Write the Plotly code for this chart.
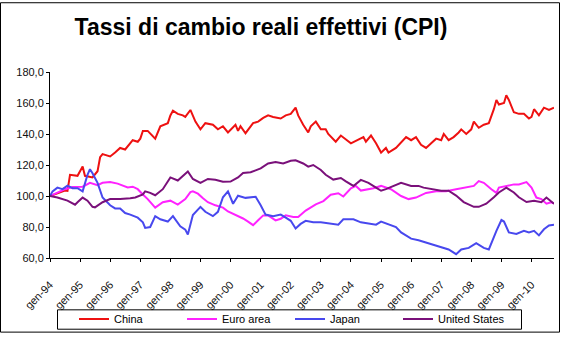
import pandas as pd
import plotly.graph_objects as go

# Real effective exchange rates (CPI based), index Jan 1994 = 100.
# Each series: month offset from Jan 1994 and index value.
start = pd.Timestamp("1994-01-01")

china_months = [0, 3, 6, 7, 8, 11, 13, 14, 17, 19, 20, 21, 24, 26, 28, 30, 33, 35, 36, 37, 39, 42, 44,
                47, 48, 49, 51, 53, 54, 56, 58, 60, 62, 65, 67, 69, 71, 74, 75, 76, 78, 81, 83, 85, 87,
                89, 92, 94, 96, 98, 99, 101, 103, 104, 106, 108, 110, 111, 114, 116, 118, 120, 122, 125,
                126, 128, 130, 132, 134, 135, 138, 140, 142, 144, 146, 148, 150, 152, 154, 156, 157, 159,
                161, 163, 164, 166, 168, 169, 171, 173, 175, 177, 178, 179, 181, 182, 183, 185, 187, 189,
                191, 192, 193, 195, 197, 199, 201]
china_values = [100, 101.5, 103.5, 103.3, 113.7, 113, 119, 113, 112, 116, 125, 127, 125.5, 128, 131, 130,
                136, 135, 137, 142, 142, 137, 145, 147, 152, 155, 153, 152, 151, 155.5, 148, 143, 147, 146,
                143, 145, 141, 146, 142, 145, 140.5, 147, 148, 150.4, 152, 151, 150, 152, 153, 157, 152,
                146, 141, 145, 148, 143, 143, 140, 135, 139, 136.5, 134, 135.6, 138, 135, 139, 134, 128,
                131, 128, 131, 134.6, 138, 136, 138, 133, 131, 134, 137, 136, 140, 136, 138, 141, 143, 140,
                143, 148, 144, 146, 147, 156, 162, 159, 160, 165, 162, 154, 153, 153, 150, 151, 156, 152,
                157, 155.5, 157]

euro_months = [0, 3, 6, 9, 13, 16, 19, 21, 24, 27, 31, 33, 35, 37, 39, 42, 45, 48, 51, 54, 56, 57, 59, 61,
               63, 66, 69, 71, 74, 77, 79, 81, 83, 85, 87, 90, 92, 94, 97, 99, 102, 104, 106, 109, 112,
               115, 117, 120, 122, 124, 126, 129, 132, 136, 140, 143, 146, 150, 154, 158, 162, 165, 169,
               171, 173, 176, 178, 179, 182, 185, 187, 190, 192, 194, 196, 198, 200, 201]
euro_values = [100, 102.3, 104.4, 105.8, 106, 108.5, 107, 108.5, 109, 108, 105.5, 106, 104.4, 101, 98, 92.5,
               96, 97, 94.5, 98, 102.5, 103, 101.5, 98.5, 96, 94, 92.5, 90, 88, 85.5, 83.5, 81.2, 84.3,
               87.5, 87.5, 84.3, 85.3, 87.5, 86.4, 86.4, 90.6, 92.5, 94.6, 96.7, 100.8, 101.8, 99.7, 105,
               106.5, 103.5, 104, 105, 106.5, 104.4, 100, 98, 99, 102, 103, 103, 104.4, 105.4, 106.5,
               109.6, 108.5, 104.4, 102, 105.4, 106.5, 107.5, 107.5, 109, 105.4, 99, 98, 95, 96, 95]

japan_months = [0, 1, 3, 5, 7, 9, 11, 13, 15, 16, 17, 19, 21, 24, 26, 28, 30, 32, 35, 37, 38, 40, 42, 44,
                47, 49, 52, 54, 55, 57, 60, 62, 65, 67, 69, 71, 73, 75, 78, 80, 82, 84, 86, 89, 92, 94, 96,
                98, 100, 102, 105, 108, 112, 115, 117, 121, 124, 126, 130, 132, 136, 138, 140, 144, 147,
                149, 153, 156, 159, 162, 164, 167, 170, 173, 175, 178, 180, 181, 183, 186, 189, 191, 193,
                195, 197, 199, 201]
japan_values = [100, 103, 105.4, 104.4, 106.7, 105, 105, 103, 113.7, 117.3, 114.7, 108.5, 99, 94, 92, 92,
                89, 88, 86, 83, 79.4, 80, 87, 85, 83.5, 87, 80.4, 78.3, 75.2, 87.7, 93, 89.8, 87, 89.8,
                99.2, 103, 95, 100.2, 98.8, 99, 99.5, 94, 88, 87, 88, 86, 84, 79, 82, 84, 83, 83, 82, 81.5,
                85, 85, 83, 82.5, 81.5, 83.5, 81, 80, 76.5, 72.5, 71.5, 70.5, 68.5, 66.5, 65.5, 62.5, 65.5,
                66.5, 69.6, 66.5, 65.5, 77.5, 84.5, 83.5, 76.5, 75.5, 77.5, 76.5, 77.5, 74.6, 78.5, 81,
                81.5]

us_months = [0, 3, 7, 10, 11, 13, 15, 17, 18, 21, 24, 28, 32, 34, 37, 38, 40, 42, 45, 48, 51, 53, 55, 57,
             60, 63, 66, 69, 72, 75, 77, 80, 84, 87, 90, 93, 96, 98, 101, 103, 105, 108, 110, 113, 116,
             118, 121, 124, 127, 130, 132, 134, 137, 140, 144, 147, 149, 153, 156, 159, 162, 165, 169,
             171, 174, 177, 179, 182, 185, 187, 190, 193, 196, 198, 200, 201]
us_values = [100, 99, 97, 94.4, 96, 99, 97, 93, 92.7, 96, 98, 98, 98.5, 99, 101, 103, 102, 100.5, 104.4,
             112, 110, 112.7, 115.8, 111, 108.5, 111, 110.5, 109.2, 109.3, 112, 114.8, 115.3, 117.8, 121,
             122, 121, 122.7, 123, 121, 118.9, 120, 116.8, 113.7, 110.6, 111.6, 109.5, 106.5, 110.4,
             108.5, 105.4, 103.4, 104.4, 106.5, 108.5, 106.5, 106.5, 105.4, 104.4, 103.4, 103.4, 100.3,
             96.1, 93, 93, 95, 99.2, 102.3, 105.4, 102.3, 99.2, 96.1, 97, 96, 99, 96, 95]

series = [
    ("China", china_months, china_values, "#EE1111"),
    ("Euro area", euro_months, euro_values, "#FF22FF"),
    ("Japan", japan_months, japan_values, "#4848EE"),
    ("United States", us_months, us_values, "#7A107A"),
]

year_ticks = list(range(1994, 2011))
tick_dates = [f"{y}-01-01" for y in year_ticks]
tick_labels = [f"gen-{y % 100:02d}" for y in year_ticks]
y_ticks = [60, 80, 100, 120, 140, 160, 180]
grid_levels = [80, 100, 120, 140, 160]
y_range = [60, 180]

W, H = 562, 342
ML, MR, MT, MB = 50, 8, 72, 78
PW, PH = W - ML - MR, H - MT - MB


def px_x(x):
    return (x - ML) / PW


def px_y(y):
    return (H - MB - y) / PH


fig = go.Figure()
for name, months, values, color in series:
    dates = [start + pd.DateOffset(months=m) for m in months]
    fig.add_trace(go.Scatter(x=dates, y=values, mode="lines", name=name, yaxis="y2",
                             line=dict(color=color, width=2)))

font_family = "Liberation Sans, Arial, sans-serif"
tick_font = dict(size=11, color="#111111", family=font_family)

fig.update_layout(
    width=W, height=H,
    margin=dict(l=ML, r=MR, t=MT, b=MB),
    paper_bgcolor="white", plot_bgcolor="white",
    separators=",.",
    font=dict(family=font_family, size=11, color="#111111"),
    title=dict(text="<b>Tassi di cambio reali effettivi (CPI)</b>",
               font=dict(size=23, color="black", family=font_family),
               x=261 / W, xanchor="center", xref="container",
               y=1 - 27 / H, yanchor="middle", yref="container"),
    xaxis=dict(type="date", range=["1994-01-01", "2010-10-01"],
               tickvals=tick_dates, ticktext=tick_labels, tickangle=-45,
               showgrid=False, showline=True, linecolor="black", linewidth=1,
               ticks="outside", ticklen=3, tickcolor="black",
               ticklabelstandoff=12, tickfont=tick_font),
    # base axis: horizontal gridlines only
    yaxis=dict(range=y_range, tickvals=grid_levels, showticklabels=False,
               showgrid=True, gridcolor="black", gridwidth=1,
               showline=False, ticks="", zeroline=False),
    # data axis: labels, ticks and the left axis line
    yaxis2=dict(range=y_range, overlaying="y", side="left", anchor="x",
                tickvals=y_ticks, tickformat=".1f", showgrid=False,
                showline=True, linecolor="black", linewidth=1,
                ticks="outside", ticklen=3, tickcolor="black",
                zeroline=False, tickfont=tick_font),
    showlegend=True,
    legend=dict(orientation="h", x=px_x(74), xanchor="left",
                y=px_y(327), yanchor="middle",
                itemwidth=30, entrywidthmode="pixels", entrywidth=63,
                font=dict(size=11, color="black", family=font_family),
                bgcolor="rgba(0,0,0,0)", borderwidth=0),
    shapes=[
        # legend frame
        dict(type="rect", xref="paper", yref="paper",
             x0=px_x(57.5), x1=px_x(521.5), y0=px_y(337.5), y1=px_y(317.5),
             line=dict(color="black", width=1), fillcolor="rgba(0,0,0,0)"),
        # chart frame
        dict(type="rect", xref="paper", yref="paper",
             x0=px_x(0.5), x1=px_x(559.5), y0=px_y(340.5), y1=px_y(0.5),
             line=dict(color="black", width=1), fillcolor="rgba(0,0,0,0)"),
    ],
)

fig.write_html("out.html")
